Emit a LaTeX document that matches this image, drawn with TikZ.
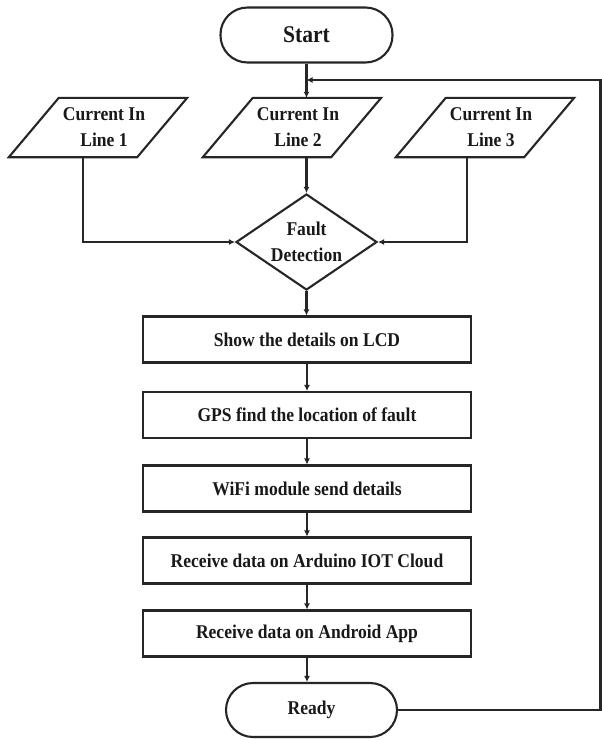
\documentclass[tikz,border=0pt]{standalone}
\usepackage{fontspec}
\setmainfont{Liberation Serif}[FakeStretch=0.9]
\usetikzlibrary{shapes.geometric,calc,arrows.meta}
\newcommand\drawpara[1]{\draw[ln] ($(#1.north west)+(19,0)$) -- ($(#1.north east)+(19,0)$) -- ($(#1.south east)+(-31,0)$) -- ($(#1.south west)+(-31,0)$) -- cycle;}
\begin{document}
\begin{tikzpicture}[x=1pt,y=-1pt,
  ln/.style={draw=black!85, line width=2.1pt},
  arr/.style={ln, -{Latex[length=6pt,width=6pt]}},
  txt/.style={font=\fontsize{19.5pt}{26pt}\selectfont\bfseries, text=black!90, align=center},
  proc/.style={txt, ln, rectangle, minimum width=328pt, minimum height=46pt, inner sep=0pt},
  term/.style={txt, ln, rectangle, rounded corners=27pt, minimum width=172pt, minimum height=55pt, inner sep=0pt},
  datain/.style={txt, rectangle, minimum width=128pt, minimum height=59pt, inner sep=0pt},
  dec/.style={txt, ln, diamond, aspect=1.47, minimum width=141pt, minimum height=96pt, inner sep=0pt}
]
\useasboundingbox (0,0) rectangle (602,740);
\fill[white] (0,0) rectangle (602,740);

\node[term, font=\fontsize{24pt}{28pt}\selectfont\bfseries] (start) at (306.5,35) {Start};

\node[datain] (l1) at (104,127.5) {Current In\\Line 1};
\node[datain] (l2) at (298,127.5) {Current In\\Line 2};
\node[datain] (l3) at (491,127.5) {Current In\\Line 3};
\drawpara{l1}
\drawpara{l2}
\drawpara{l3}

\node[dec] (fd) at (306.5,242) {Fault\\Detection};

\node[proc] (b1) at (307,339.5) {Show the details on LCD};
\node[proc] (b2) at (307,415) {GPS find the location of fault};
\node[proc] (b3) at (307,488.5) {WiFi module send details};
\node[proc] (b4) at (307,560.5) {Receive data on Arduino IOT Cloud};
\node[proc] (b5) at (307,633.5) {Receive data on Android App};

\node[term, minimum width=171pt, minimum height=54pt] (ready) at (311.5,710) {Ready};

\coordinate (fbr) at (600.5,80);
\coordinate (fbl) at (306.5,80);

\draw[arr] (start.south) -- (start.south |- l2.north);
\draw[arr] (ready.east) -| (fbr) -- (fbl);

\draw[arr] ($(l1.south)+(-21,0)$) |- (fd.west);
\draw[arr] (l2.south -| fd.north) -- (fd.north);
\draw[arr] ($(l3.south)+(-24,0)$) |- (fd.east);

\draw[arr] (fd.south) -- (fd.south |- b1.north);
\draw[arr] (b1.south) -- (b2.north);
\draw[arr] (b2.south) -- (b3.north);
\draw[arr] (b3.south) -- (b4.north);
\draw[arr] (b4.south) -- (b5.north);
\draw[arr] (b5.south) -- (b5.south |- ready.north);
\end{tikzpicture}
\end{document}
